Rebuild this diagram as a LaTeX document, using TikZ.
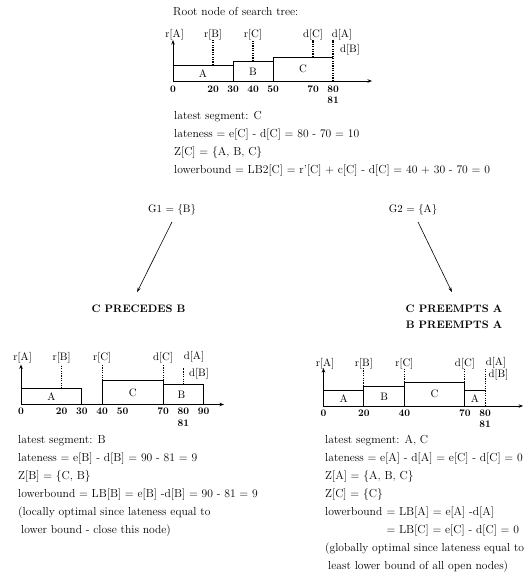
\documentclass[tikz,border=0pt]{standalone}
\usetikzlibrary{arrows.meta}
\tikzset{
  txt/.style={anchor=base west, inner sep=0pt, font=\fontsize{11.6}{13}\selectfont},
  lbl/.style={anchor=base, inner sep=0pt, font=\fontsize{10.8}{12}\selectfont},
  num/.style={anchor=base, inner sep=0pt, font=\bfseries\fontsize{10}{11}\selectfont},
  boxlbl/.style={anchor=center, inner sep=0pt, font=\fontsize{10.8}{12}\selectfont},
  head/.style={anchor=base, inner sep=0pt, font=\bfseries\fontsize{10.8}{12}\selectfont},
  seg/.style={draw, line width=0.9pt},
  dotline/.style={line width=1.1pt, dash pattern=on 1.2pt off 1.2pt},
  axisline/.style={line width=0.8pt, -{Stealth[length=4.5pt,width=3.5pt]}},
  tree/.style={line width=0.6pt, -{Stealth[length=5pt,width=3pt]}},
}
\begin{document}
\begin{tikzpicture}[x=1pt,y=-1pt]
\useasboundingbox (0,0) rectangle (531,574);

% ---------- root ----------
\node[txt] (title) at (173,15.5) {Root node of search tree:};
\begin{scope}[shift={(173,81)}, x=2pt, y=1pt]
  \draw[axisline] (0,0) -- (99.5,0);
  \draw[axisline] (0,0) -- (0,41);
  \draw[seg] (0,0) rectangle (30,16);
  \draw[seg] (30,0) rectangle (50,20);
  \draw[seg] (80,0) -- (50,0) -- (50,24) -- (80,24);
  \draw[dotline] (80,0) -- (80,41);
  \draw[dotline] (20,16) -- (20,41);
  \draw[dotline] (40,20) -- (40,41);
  \draw[dotline] (70,24) -- (70,41);
  \node[lbl] (r0a) at (0.8,44) {r[A]};
  \node[lbl] (r0b) at (20,44) {r[B]};
  \node[lbl] (r0c) at (40,44) {r[C]};
  \node[lbl] (d0c) at (70,44) {d[C]};
  \node[lbl] (d0a) at (84.5,44) {d[A]};
  \node[lbl] (d0b) at (88.5,29) {d[B]};
  \node[boxlbl] (b0a) at (15,7) {A};
  \node[boxlbl] (b0b) at (40,9) {B};
  \node[boxlbl] (b0c) at (65,12) {C};
  \node[num] (n00) at (0,-11.5) {0};
  \node[num] (n01) at (20,-11.5) {20};
  \node[num] (n02) at (30,-11.5) {30};
  \node[num] (n03) at (40,-11.5) {40};
  \node[num] (n04) at (50,-11.5) {50};
  \node[num] (n05) at (70,-11.5) {70};
  \node[num] (n06) at (80,-11.5) {80};
  \node[num] (n07) at (80,-22.5) {81};
\end{scope}
\node[txt] (t1) at (174,119) {latest segment: C};
\node[txt] (t2) at (174,137) {lateness = e[C] - d[C] = 80 - 70 = 10};
\node[txt] (t3) at (174,155) {Z[C] = \{A, B, C\}};
\node[txt] (t4) at (174,173) {lowerbound = LB2[C] = r'[C] + c[C] - d[C] = 40 + 30 - 70 = 0};

\node[lbl] (g1) at (172,212) {G1 = \{B\}};
\node[lbl] (g2) at (413,212) {G2 = \{A\}};

\node[head] (h1) at (138.5,312) {C PRECEDES B};
\node[head] (h2) at (454,312) {C PREEMPTS A};
\node[head] (h3) at (454,328) {B PREEMPTS A};

\draw[tree] ([yshift=-7pt]g1.south) -- ([xshift=-1.5pt,yshift=12pt]h1.north);
\draw[tree] ([xshift=5pt,yshift=-7pt]g2.south) -- ([xshift=-2pt,yshift=12pt]h2.north);

% ---------- left child ----------
\begin{scope}[shift={(21,404.5)}, x=2.03pt, y=1pt]
  \draw[axisline] (0,0) -- (100,0);
  \draw[axisline] (0,0) -- (0,40);
  \draw[seg] (0,0) rectangle (30,16);
  \draw[seg] (40,0) rectangle (70,24);
  \draw[seg] (70,0) rectangle (90,20);
  \draw[dotline] (20,16) -- (20,40);
  \draw[dotline] (40,24) -- (40,40);
  \draw[dotline] (70,24) -- (70,40);
  \draw[dotline] (80,20) -- (80,37);
  \node[lbl] (r1a) at (0.8,44.5) {r[A]};
  \node[lbl] (r1b) at (20,44.5) {r[B]};
  \node[lbl] (r1c) at (40,44.5) {r[C]};
  \node[lbl] (d1c) at (70,44.5) {d[C]};
  \node[lbl] (d1a) at (85.2,45) {d[A]};
  \node[lbl] (d1b) at (87.7,28.5) {d[B]};
  \node[boxlbl] (b1a) at (15,7.5) {A};
  \node[boxlbl] (b1c) at (55,12) {C};
  \node[boxlbl] (b1b) at (79,9.5) {B};
  \node[num] (n10) at (0,-10) {0};
  \node[num] (n11) at (20,-10) {20};
  \node[num] (n12) at (30,-10) {30};
  \node[num] (n13) at (40,-10) {40};
  \node[num] (n14) at (50,-10) {50};
  \node[num] (n15) at (70,-10) {70};
  \node[num] (n16) at (80,-10) {80};
  \node[num] (n17) at (90,-10) {90};
  \node[num] (n18) at (80,-22) {81};
\end{scope}
\node[txt] (l1) at (18,443) {latest segment: B};
\node[txt] (l2) at (18,461) {lateness = e[B] - d[B] = 90 - 81 = 9};
\node[txt] (l3) at (18,479) {Z[B] = \{C, B\}};
\node[txt] (l4) at (18,497) {lowerbound = LB[B] = e[B] -d[B] = 90 - 81 = 9};
\node[txt] (l5) at (18,515) {(locally optimal since lateness equal to};
\node[txt] (l6) at (21,533) {lower bound - close this node)};

% ---------- right child ----------
\begin{scope}[shift={(323.5,406)}, x=2.02pt, y=1pt]
  \draw[axisline] (0,0) -- (98.8,0);
  \draw[axisline] (0,0) -- (0,38);
  \draw[seg] (0,0) rectangle (20,16);
  \draw[seg] (20,0) rectangle (40,20);
  \draw[seg] (40,0) rectangle (70,24);
  \draw[seg] (80,0) -- (70,0) -- (70,16) -- (80,16);
  \draw[dotline] (80,0) -- (80,38);
  \draw[dotline] (20,20) -- (20,38);
  \draw[dotline] (40,24) -- (40,38);
  \draw[dotline] (70,24) -- (70,38);
  \node[lbl] (r2a) at (0.8,40) {r[A]};
  \node[lbl] (r2b) at (20,40) {r[B]};
  \node[lbl] (r2c) at (40,40) {r[C]};
  \node[lbl] (d2c) at (70,40) {d[C]};
  \node[lbl] (d2a) at (85.4,40.5) {d[A]};
  \node[lbl] (d2b) at (86.6,29) {d[B]};
  \node[boxlbl] (b2a) at (10,7.5) {A};
  \node[boxlbl] (b2b) at (30,9.5) {B};
  \node[boxlbl] (b2c) at (55,12) {C};
  \node[boxlbl] (b2d) at (75,7.5) {A};
  \node[num] (n20) at (0,-10.5) {0};
  \node[num] (n21) at (20,-10.5) {20};
  \node[num] (n22) at (40,-10.5) {40};
  \node[num] (n23) at (70,-10.5) {70};
  \node[num] (n24) at (80,-10.5) {80};
  \node[num] (n25) at (80,-21.5) {81};
\end{scope}
\node[txt] (q1) at (325,443) {latest segment: A, C};
\node[txt] (q2) at (325,461) {lateness = e[A] - d[A] = e[C] - d[C] = 0};
\node[txt] (q3) at (325,479) {Z[A] = \{A, B, C\}};
\node[txt] (q4) at (325,497) {Z[C] = \{C\}};
\node[txt] (q5a) at (325,515) {lowerbound};
\node[txt, xshift=3.8pt] (q5b) at (q5a.base east) {= LB[A] = e[A] -d[A]};
\node[txt] (q6) at (q5b.base west |- 0,533) {= LB[C] = e[C] - d[C] = 0};
\node[txt] (q7) at (325,551) {(globally optimal since lateness equal to};
\node[txt] (q8) at (328,569) {least lower bound of all open nodes)};
\end{tikzpicture}
\end{document}
